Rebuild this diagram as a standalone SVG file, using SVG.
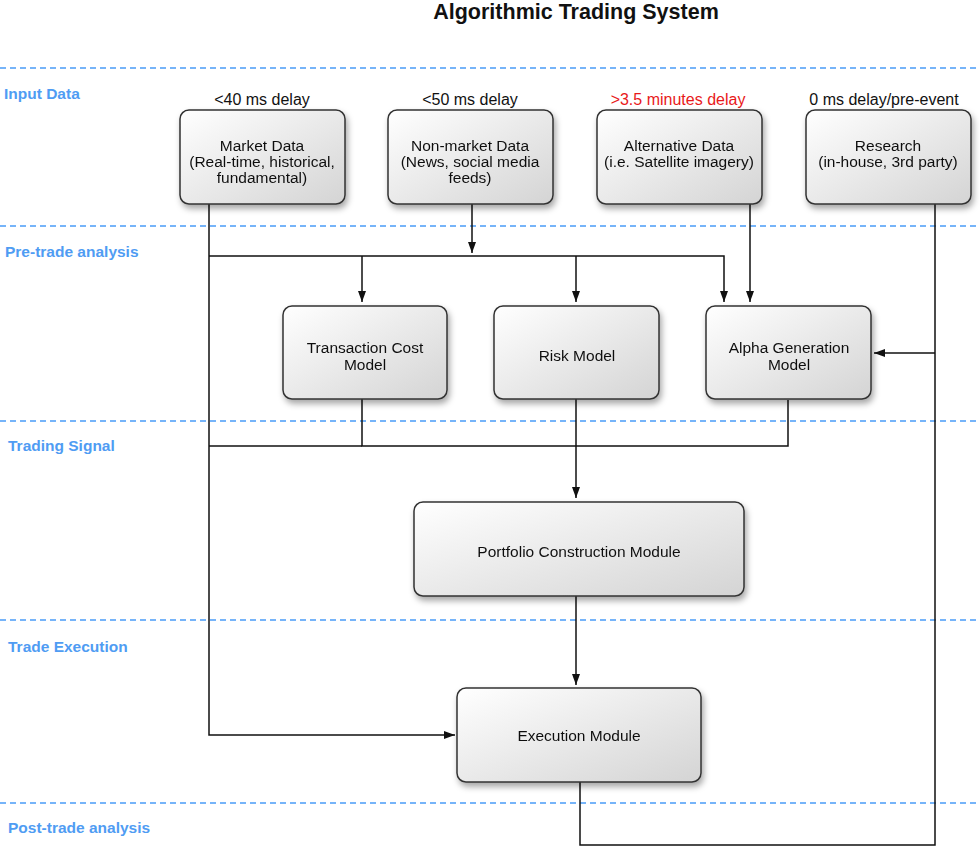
<svg xmlns="http://www.w3.org/2000/svg" width="980" height="846" viewBox="0 0 980 846">
<style>
.title{font-family:"Liberation Sans",Arial,sans-serif;font-size:21.5px;font-weight:bold;fill:#111;text-anchor:middle}
.sec{font-family:"Liberation Sans",Arial,sans-serif;font-size:15.5px;font-weight:bold;fill:#4f9cf3}
.lbl{font-family:"Liberation Sans",Arial,sans-serif;font-size:15.5px;fill:#111;text-anchor:middle}
.dl{font-size:16px}
.red{fill:#e8191a}
.box{fill:url(#g);stroke:#333;stroke-width:1.5}
.dash{stroke:#4a9cf8;stroke-width:1.4;stroke-dasharray:6 4;fill:none}
.ln{stroke:#111;stroke-width:1.5;fill:none}
</style>
<defs>
<linearGradient id="g" x1="0" y1="0" x2="1" y2="1">
<stop offset="0" stop-color="#ffffff"/>
<stop offset="1" stop-color="#d4d4d4"/>
</linearGradient>
<filter id="sh" x="-10%" y="-10%" width="130%" height="140%">
<feDropShadow dx="2" dy="4" stdDeviation="3" flood-color="#000" flood-opacity="0.35"/>
</filter>
<marker id="ah" markerWidth="11" markerHeight="8" refX="11" refY="4" orient="auto" markerUnits="userSpaceOnUse">
<path d="M0,0 L11,4 L0,8 Z" fill="#111"/>
</marker>
</defs>
<rect width="980" height="846" fill="#fff"/>
<text class="title" x="576" y="19">Algorithmic Trading System</text>
<g id="lanes">
<line class="dash" x1="0" y1="68" x2="980" y2="68"/>
<line class="dash" x1="0" y1="226" x2="980" y2="226"/>
<line class="dash" x1="0" y1="421" x2="980" y2="421"/>
<line class="dash" x1="0" y1="620" x2="980" y2="620"/>
<line class="dash" x1="0" y1="803" x2="980" y2="803"/>
<text class="sec" x="4" y="99">Input Data</text>
<text class="sec" x="5" y="257">Pre-trade analysis</text>
<text class="sec" x="8" y="451">Trading Signal</text>
<text class="sec" x="8" y="652">Trade Execution</text>
<text class="sec" x="8" y="833">Post-trade analysis</text>
</g>
<g id="delays">
<text class="lbl dl" x="262" y="105">&lt;40 ms delay</text>
<text class="lbl dl" x="470" y="105">&lt;50 ms delay</text>
<text class="lbl dl red" x="678" y="105">&gt;3.5 minutes delay</text>
<text class="lbl dl" x="884" y="105">0 ms delay/pre-event</text>
</g>
<g id="connectors">
<path class="ln" d="M209,204 V735 H455" marker-end="url(#ah)"/>
<path class="ln" d="M472,204 V253" marker-end="url(#ah)"/>
<path class="ln" d="M209,256 H724 V302" marker-end="url(#ah)"/>
<path class="ln" d="M362,256 V302" marker-end="url(#ah)"/>
<path class="ln" d="M576,256 V302" marker-end="url(#ah)"/>
<path class="ln" d="M750,204 V302" marker-end="url(#ah)"/>
<path class="ln" d="M935,204 V845 H580 V782"/>
<path class="ln" d="M935,353 H874" marker-end="url(#ah)"/>
<path class="ln" d="M362,398 V446 H788 V400"/>
<path class="ln" d="M209,446 H362"/>
<path class="ln" d="M576,398 V498" marker-end="url(#ah)"/>
<path class="ln" d="M576,596 V685" marker-end="url(#ah)"/>
</g>
<g id="market-data" filter="url(#sh)">
<rect class="box" x="180" y="110" width="165" height="94" rx="9"/>
<text class="lbl" x="262" y="151">Market Data</text>
<text class="lbl" x="262" y="167">(Real-time, historical,</text>
<text class="lbl" x="262" y="183">fundamental)</text>
</g>
<g id="non-market-data" filter="url(#sh)">
<rect class="box" x="388" y="110" width="165" height="94" rx="9"/>
<text class="lbl" x="470" y="151">Non-market Data</text>
<text class="lbl" x="470" y="167">(News, social media</text>
<text class="lbl" x="470" y="183">feeds)</text>
</g>
<g id="alternative-data" filter="url(#sh)">
<rect class="box" x="597" y="110" width="165" height="94" rx="9"/>
<text class="lbl" x="679" y="151">Alternative Data</text>
<text class="lbl" x="679" y="167">(i.e. Satellite imagery)</text>
</g>
<g id="research" filter="url(#sh)">
<rect class="box" x="806" y="110" width="165" height="94" rx="9"/>
<text class="lbl" x="888" y="151">Research</text>
<text class="lbl" x="888" y="167">(in-house, 3rd party)</text>
</g>
<g id="transaction-cost-model" filter="url(#sh)">
<rect class="box" x="283" y="306" width="164" height="93" rx="9"/>
<text class="lbl" x="365" y="353">Transaction Cost</text>
<text class="lbl" x="365" y="370">Model</text>
</g>
<g id="risk-model" filter="url(#sh)">
<rect class="box" x="494" y="306" width="165" height="93" rx="9"/>
<text class="lbl" x="577" y="361">Risk Model</text>
</g>
<g id="alpha-generation-model" filter="url(#sh)">
<rect class="box" x="706" y="306" width="165" height="93" rx="9"/>
<text class="lbl" x="789" y="353">Alpha Generation</text>
<text class="lbl" x="789" y="370">Model</text>
</g>
<g id="portfolio-construction-module" filter="url(#sh)">
<rect class="box" x="414" y="502" width="330" height="94" rx="9"/>
<text class="lbl" x="579" y="557">Portfolio Construction Module</text>
</g>
<g id="execution-module" filter="url(#sh)">
<rect class="box" x="457" y="688" width="244" height="94" rx="9"/>
<text class="lbl" x="579" y="741">Execution Module</text>
</g>
</svg>
